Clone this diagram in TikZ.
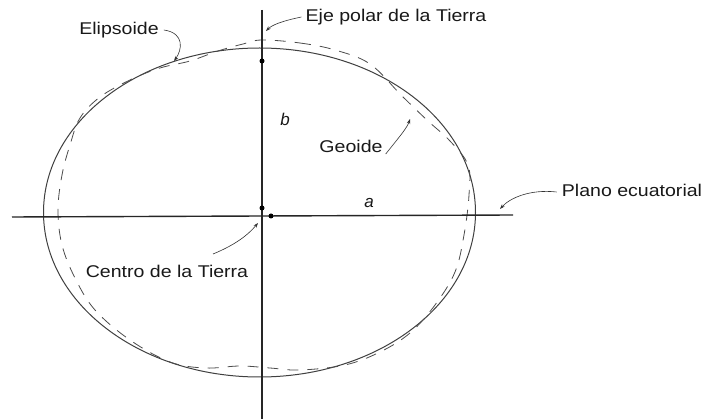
\documentclass[tikz,border=0pt]{standalone}
\usepackage{fontspec}
\usepackage{graphicx}
\setmainfont{Liberation Sans}
\usetikzlibrary{arrows.meta}
\newcommand{\wide}[1]{\scalebox{1.15}[1]{#1}}
\begin{document}
\begin{tikzpicture}[x=1pt,y=-1pt,
  axis/.style={line width=1.4pt, draw=black!85},
  elip/.style={line width=1pt, draw=black!75},
  geo/.style={line width=0.8pt, draw=black!70, dash pattern=on 11pt off 9pt},
  lbl/.style={font=\fontsize{17}{20}\selectfont, text=black!90, inner sep=0pt},
  ptr/.style={line width=0.6pt, draw=black!80, -{Stealth[length=5pt,width=3.5pt]}},
  dot/.style={circle, fill=black, inner sep=0pt, minimum size=5pt}]
\useasboundingbox[fill=white] (0,0) rectangle (705,419);

% ellipsoid
\draw[elip] (259.5,212.5) ellipse [x radius=216, y radius=164.5];

% geoid
\draw[geo] plot[smooth cycle, tension=0.6] coordinates {
 (262,40) (300,43) (335,50) (370,64) (402,96) (428,121) (450,141)
 (468,165) (469,195) (464,235) (455,272) (435,305) (410,333) (380,352)
 (345,365) (300,370) (270,368) (240,366) (205,368) (170,362) (130,340)
 (95,310) (75,278) (62,245) (58,210) (62,175) (70,145) (80,118)
 (100,97) (130,80) (160,68) (190,61) (218,51) (243,44)};

% axes
\coordinate (vtop) at (262,10);
\coordinate (vbot) at (262,419);
\coordinate (hl) at (12,217);
\coordinate (hr) at (513,215);
\draw[axis] (vtop) -- (vbot);
\draw[axis] (hl) -- (hr);

% dots
\node[dot] (d1) at (262,61) {};
\node[dot] (d2) at (262,208) {};
\node[dot] (d3) at (271,216) {};

% labels
\node[lbl] (elipL) at (119,30) {\wide{Elipsoide}};
\node[lbl] (ejeL) at (396,17) {\wide{Eje polar de la Tierra}};
\node[lbl] (geoL) at (351,146) {\wide{Geoide}};
\node[lbl] (planoL) at (632,190) {\wide{Plano ecuatorial}};
\node[lbl] (centroL) at (167,271) {\wide{Centro de la Tierra}};
\node[lbl, font=\fontsize{17}{20}\selectfont\itshape] (bL) at (285,119) {b};
\node[lbl, font=\fontsize{17}{20}\selectfont\itshape] (aL) at (369,203) {a};

% pointer targets
\coordinate (tE) at (174,61);
\coordinate (tEje) at (266,31);
\coordinate (tGeo) at (410,119);
\coordinate (tPl) at (500,209);
\coordinate (tC) at (258,223);
\coordinate (sC) at (213,254);

% pointers
\draw[ptr] ([xshift=5pt]elipL.east) .. controls (185,33) and (182,50) .. (tE);
\draw[ptr] ([xshift=-4pt]ejeL.west) .. controls (282,21) and (272,25) .. (tEje);
\draw[ptr] ([xshift=3pt,yshift=-8pt]geoL.east) .. controls (400,136) and (407,128) .. (tGeo);
\draw[ptr] ([xshift=-5pt,yshift=-2pt]planoL.west) .. controls (530,189) and (510,198) .. (tPl);
\draw[ptr] (sC) .. controls (235,245) and (248,235) .. (tC);
\end{tikzpicture}
\end{document}
